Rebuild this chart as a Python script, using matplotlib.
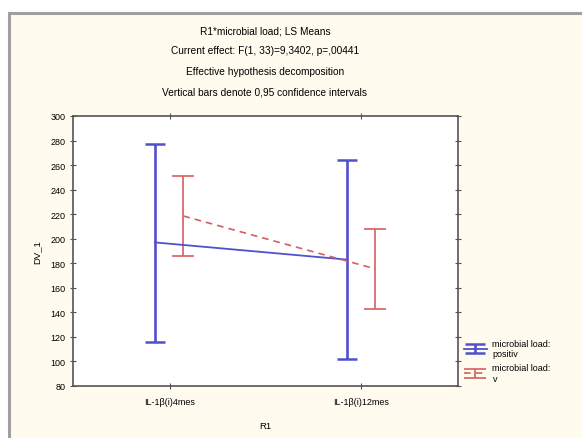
import matplotlib.pyplot as plt
from matplotlib.patches import Rectangle

plt.rcParams['font.family'] = ['Liberation Sans', 'DejaVu Sans']

# data
groups = ['IL-1β(i)4mes', 'IL-1β(i)12mes']
pos_mean = [197, 183]
pos_low = [116, 102]
pos_high = [277, 264]
neg_mean = [218.5, 175.5]
neg_low = [186, 142.5]
neg_high = [251, 208]
labels = ['microbial load:\npositiv', 'microbial load:\nv']
titles = ['R1*microbial load; LS Means',
          'Current effect: F(1, 33)=9,3402, p=,00441',
          'Effective hypothesis decomposition',
          'Vertical bars denote 0,95 confidence intervals']

W, H = 582, 439
fig = plt.figure(figsize=(W / 100, H / 100), dpi=100)
fig.patch.set_facecolor('white')

# cream panel with grey frame
fig.patches.append(Rectangle((9 / W, -0.1), 1, 1.1 - 14 / H, transform=fig.transFigure,
                             facecolor='#fffbef', edgecolor='#a0a0a0', linewidth=2.2, zorder=-1))

ax = fig.add_axes([73 / W, 1 - 387 / H, 385 / W, 270 / H])
ax.set_facecolor('white')

x = [0, 1]
off = 0.077
xb = [v - off for v in x]
xr = [v + off * 0.93 for v in x]

blue = '#5050cc'
red = '#d46060'

yerr_b = [[m - l for m, l in zip(pos_mean, pos_low)], [h - m for m, h in zip(pos_mean, pos_high)]]
yerr_r = [[m - l for m, l in zip(neg_mean, neg_low)], [h - m for m, h in zip(neg_mean, neg_high)]]

eb1 = ax.errorbar(xb, pos_mean, yerr=yerr_b, color=blue, linewidth=1.3, elinewidth=1.9,
                  capsize=7, capthick=1.8, label=labels[0])
eb2 = ax.errorbar(xr, neg_mean, yerr=yerr_r, color=red, linewidth=1.2, linestyle=(0, (4, 3)),
                  elinewidth=1.2, capsize=8, capthick=1.2, label=labels[1])

ax.set_xlim(-0.504, 1.504)
ax.set_ylim(80, 300)
ax.set_yticks(range(80, 301, 20))
ax.set_xticks(x)
ax.set_xticklabels(groups)
ax.tick_params(axis='both', labelsize=6.5, direction='inout', length=4, color='#555555',
               top=True, right=True)
ax.tick_params(axis='x', pad=6)
for s in ax.spines.values():
    s.set_color('#555555')
    s.set_linewidth(1.2)

ax.set_ylabel('DV_1', fontsize=6.8, labelpad=6)
ax.set_xlabel('R1', fontsize=6.8, labelpad=11)

for i, t in enumerate(titles):
    fig.text(265 / W, 1 - (31 + i * 20.5) / H, t, ha='center', va='center', fontsize=7.3)

fig.legend(handles=[eb1, eb2], labels=labels, loc='upper left',
           bbox_to_anchor=(460 / W, 1 - 336 / H), frameon=False, fontsize=6.5,
           handlelength=2.6, handletextpad=0.6, labelspacing=0.6, borderaxespad=0)

fig.savefig('out.png', dpi=100)
